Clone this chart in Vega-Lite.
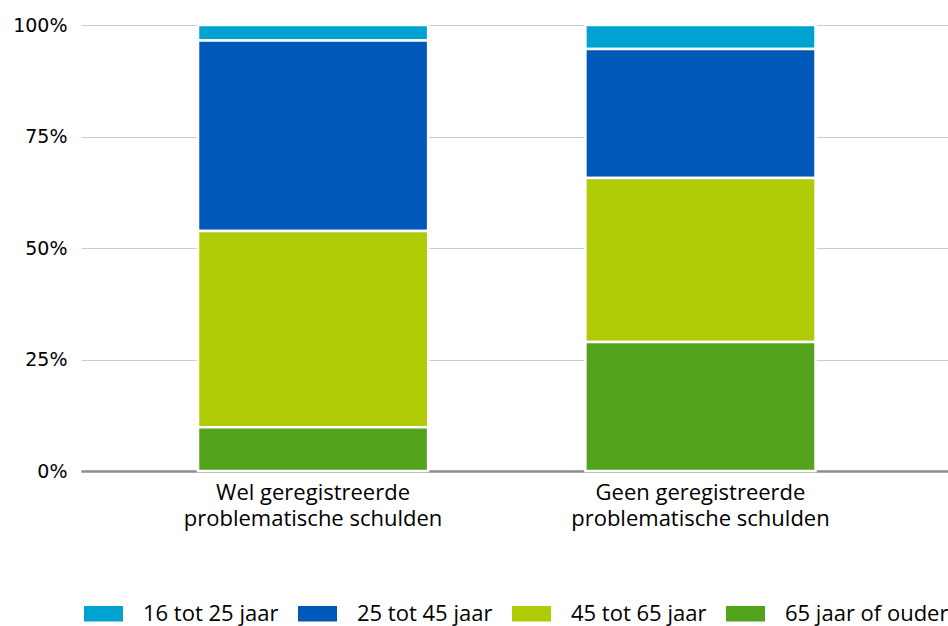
{
  "$schema": "https://vega.github.io/schema/vega-lite/v6.json",
  "width": 867,
  "height": 446,
  "autosize": "none",
  "padding": {"left": 81, "top": 25, "right": 0, "bottom": 155},
  "background": "white",
  "config": {"view": {"stroke": null}},
  "data": {
    "values": [
      {"groep": "Wel geregistreerde problematische schulden", "leeftijd": "16 tot 25 jaar", "aandeel": 3.5},
      {"groep": "Wel geregistreerde problematische schulden", "leeftijd": "25 tot 45 jaar", "aandeel": 42.7},
      {"groep": "Wel geregistreerde problematische schulden", "leeftijd": "45 tot 65 jaar", "aandeel": 44.0},
      {"groep": "Wel geregistreerde problematische schulden", "leeftijd": "65 jaar of ouder", "aandeel": 9.8},
      {"groep": "Geen geregistreerde problematische schulden", "leeftijd": "16 tot 25 jaar", "aandeel": 5.4},
      {"groep": "Geen geregistreerde problematische schulden", "leeftijd": "25 tot 45 jaar", "aandeel": 28.9},
      {"groep": "Geen geregistreerde problematische schulden", "leeftijd": "45 tot 65 jaar", "aandeel": 36.8},
      {"groep": "Geen geregistreerde problematische schulden", "leeftijd": "65 jaar of ouder", "aandeel": 28.9}
    ]
  },
  "mark": {"type": "bar", "stroke": "white", "strokeWidth": 2.5},
  "encoding": {
    "x": {
      "field": "groep",
      "type": "nominal",
      "sort": ["Wel geregistreerde problematische schulden", "Geen geregistreerde problematische schulden"],
      "scale": {"paddingInner": 0.406, "paddingOuter": 0.322, "align": 0.469},
      "axis": {
        "title": null,
        "labelAngle": 0,
        "ticks": false,
        "domainColor": "#8c8c8c",
        "domainWidth": 2.5,
        "labelPadding": 11,
        "labelFont": "Open Sans",
        "labelFontSize": 22,
        "labelColor": "black",
        "labelLineHeight": 26,
        "labelBaseline": "top",
        "labelLimit": 400,
        "labelExpr": "split(replace(datum.label, ' problematische', '|problematische'), '|')"
      }
    },
    "y": {
      "field": "aandeel",
      "type": "quantitative",
      "stack": "normalize",
      "scale": {"domain": [0, 1]},
      "axis": {
        "title": null,
        "values": [0, 0.25, 0.5, 0.75, 1],
        "format": ".0%",
        "domain": false,
        "ticks": false,
        "gridColor": "#cccccc",
        "gridWidth": 1,
        "labelPadding": 14,
        "labelFont": "DejaVu Sans",
        "labelFontSize": 19,
        "labelColor": "black"
      }
    },
    "color": {
      "field": "leeftijd",
      "type": "nominal",
      "scale": {
        "domain": ["16 tot 25 jaar", "25 tot 45 jaar", "45 tot 65 jaar", "65 jaar of ouder"],
        "range": ["#00a3cf", "#0058b8", "#afcb05", "#53a31d"]
      },
      "legend": {
        "title": null,
        "orient": "none",
        "direction": "horizontal",
        "legendX": 3,
        "legendY": 569,
        "symbolType": "M-1,-0.4L1,-0.4L1,0.4L-1,0.4Z",
        "symbolSize": 1521,
        "symbolStrokeWidth": 0,
        "symbolOpacity": 1,
        "labelOffset": 20,
        "columnPadding": 19,
        "labelFont": "Open Sans",
        "labelFontSize": 22,
        "labelColor": "black",
        "labelLimit": 300
      }
    },
    "order": {"field": "leeftijd", "sort": "descending"}
  }
}
